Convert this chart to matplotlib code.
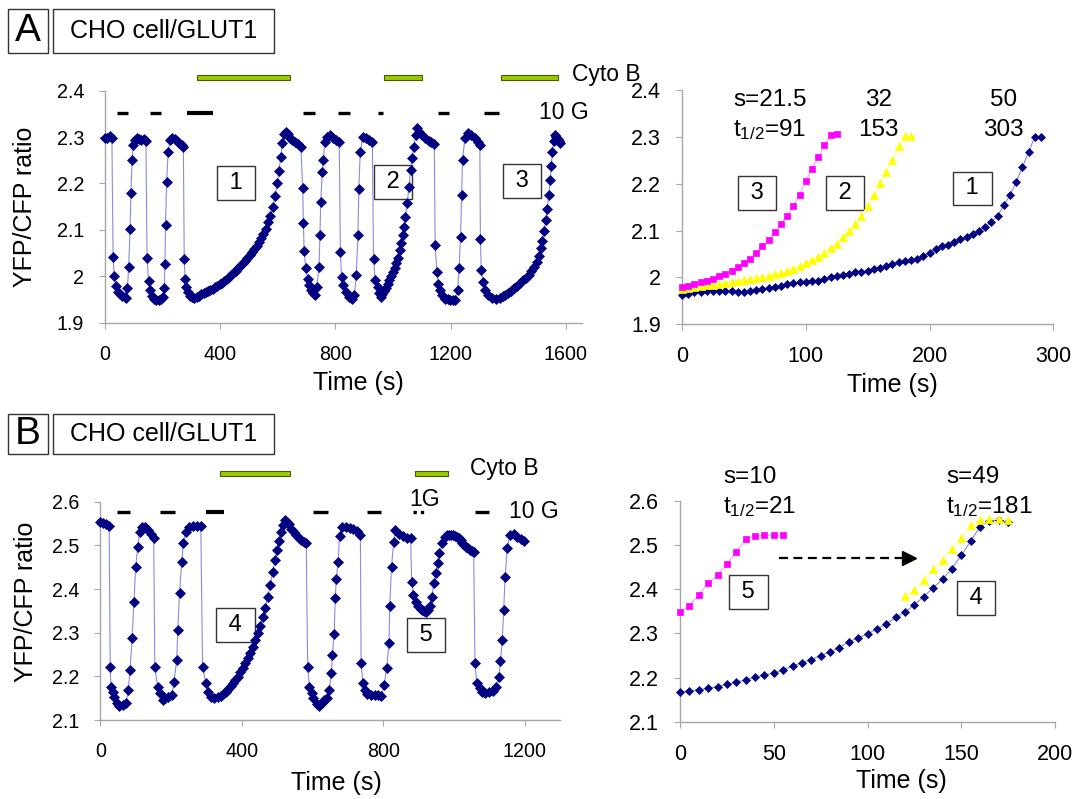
import matplotlib
matplotlib.use("Agg")
import matplotlib.pyplot as plt
from matplotlib.patches import Rectangle
from matplotlib.ticker import FuncFormatter

plt.rcParams['font.family'] = ['Liberation Sans', 'DejaVu Sans']
plt.rcParams['mathtext.default'] = 'regular'

# ----------------------------
# DATA
# ----------------------------
# Panel A, whole recording: (time s, YFP/CFP ratio)
a_trace = [
    (0, 2.297), (8, 2.298), (16, 2.302), (24, 2.297), (28, 2.042), (32, 2.000), (37, 1.979), (44, 1.967),
    (52, 1.961), (60, 1.958), (68, 1.956), (74, 1.953), (78, 1.975), (82, 2.019), (87, 2.101), (90, 2.180),
    (94, 2.250), (98, 2.283), (104, 2.294), (110, 2.299), (118, 2.296), (126, 2.294), (134, 2.296), (142, 2.292),
    (146, 2.040), (151, 1.990), (156, 1.970), (163, 1.958), (170, 1.952), (178, 1.950), (186, 1.950), (194, 1.952),
    (202, 1.955), (206, 1.975), (208, 2.027), (210, 2.110), (214, 2.204), (219, 2.268), (226, 2.294), (234, 2.299),
    (242, 2.296), (250, 2.292), (258, 2.288), (266, 2.284), (272, 2.279),
    (275, 2.038), (278, 1.995), (282, 1.977), (288, 1.966), (295, 1.958), (302, 1.955),
    (310, 1.954), (318, 1.956), (326, 1.958), (334, 1.961), (342, 1.963), (350, 1.966), (358, 1.968), (366, 1.970),
    (374, 1.973), (382, 1.976), (390, 1.979), (398, 1.983), (406, 1.986), (414, 1.990), (422, 1.994), (430, 1.998),
    (438, 2.002), (446, 2.007), (454, 2.012), (462, 2.017), (470, 2.022), (478, 2.028), (486, 2.034), (494, 2.040),
    (502, 2.046), (510, 2.052), (518, 2.058), (526, 2.065), (534, 2.073), (542, 2.082), (550, 2.092), (558, 2.103),
    (566, 2.116), (574, 2.131), (582, 2.150), (590, 2.172), (598, 2.200), (604, 2.228), (610, 2.258), (616, 2.288),
    (622, 2.306), (628, 2.312), (634, 2.306), (642, 2.298), (650, 2.294), (660, 2.289), (670, 2.285), (680, 2.279),
    (686, 2.191), (689, 2.114), (691, 2.054), (697, 2.018), (703, 1.995), (709, 1.981), (715, 1.970), (723, 1.963),
    (729, 1.959), (735, 1.977), (743, 2.020), (746, 2.088), (749, 2.160), (754, 2.224), (758, 2.250), (763, 2.290),
    (771, 2.301), (781, 2.304), (790, 2.297), (803, 2.294), (813, 2.290),
    (817, 2.053), (821, 1.999), (826, 1.981), (835, 1.966), (847, 1.955), (858, 1.952), (866, 1.959), (872, 2.002),
    (878, 2.088), (881, 2.189), (886, 2.268), (895, 2.301), (906, 2.297), (918, 2.294), (928, 2.290),
    (932, 2.038), (938, 1.991), (946, 1.977), (952, 1.963), (958, 1.955),
    (963, 1.962), (969, 1.968), (975, 1.975), (981, 1.983), (987, 1.991), (993, 2.000), (999, 2.009), (1005, 2.018),
    (1011, 2.028), (1017, 2.040), (1023, 2.057), (1028, 2.072), (1033, 2.088), (1038, 2.106), (1043, 2.128),
    (1049, 2.157), (1055, 2.193), (1061, 2.229), (1066, 2.254), (1072, 2.279), (1078, 2.304), (1083, 2.319),
    (1091, 2.312), (1101, 2.304), (1112, 2.297), (1123, 2.292), (1133, 2.290), (1143, 2.286),
    (1146, 2.067), (1152, 2.009), (1157, 1.984), (1163, 1.970), (1169, 1.959), (1181, 1.952), (1190, 1.951),
    (1198, 1.950), (1207, 1.950), (1215, 1.950), (1224, 1.970), (1229, 2.017), (1234, 2.085), (1238, 2.175),
    (1241, 2.250), (1249, 2.297), (1261, 2.308), (1270, 2.304), (1283, 2.297), (1293, 2.290), (1301, 2.283),
    (1303, 2.081), (1306, 2.013), (1312, 1.988), (1320, 1.970), (1329, 1.959), (1343, 1.953), (1358, 1.952),
    (1370, 1.954), (1380, 1.957), (1390, 1.960), (1400, 1.964), (1410, 1.969), (1420, 1.974), (1430, 1.979),
    (1440, 1.985), (1450, 1.991), (1460, 1.996), (1470, 2.003), (1480, 2.011), (1490, 2.020), (1498, 2.030),
    (1505, 2.043), (1512, 2.060), (1518, 2.076), (1524, 2.098), (1530, 2.122), (1535, 2.146), (1540, 2.175),
    (1545, 2.207), (1549, 2.238), (1553, 2.268), (1557, 2.292), (1561, 2.304), (1566, 2.301), (1571, 2.296),
    (1576, 2.292), (1580, 2.288),
]
a_cyto_b = [(320, 643), (970, 1102), (1374, 1572)]
a_glucose = [(41, 79), (157, 196), (283, 375), (687, 730), (809, 850), (949, 966), (1156, 1195), (1317, 1368)]

# Panel A, recoveries 1-3 aligned at their start
a1_time = [0, 5, 10, 15, 20, 25, 30, 35, 40, 45, 50, 55, 60, 65, 70, 75, 80, 85, 90, 95, 100, 105, 110, 115,
           120, 125, 130, 135, 140, 145, 150, 155, 160, 165, 170, 175, 180, 185, 190, 195, 200, 205, 210, 215,
           220, 225, 230, 235, 240, 245, 250, 255, 260, 265, 270, 275, 280, 285, 290]
a1_ratio = [1.961, 1.964, 1.968, 1.969, 1.970, 1.971, 1.971, 1.971, 1.971, 1.969, 1.969, 1.971, 1.973, 1.975,
            1.976, 1.979, 1.981, 1.985, 1.987, 1.989, 1.989, 1.991, 1.993, 1.996, 2.000, 2.002, 2.005, 2.007,
            2.011, 2.011, 2.014, 2.018, 2.020, 2.025, 2.029, 2.032, 2.034, 2.036, 2.039, 2.046, 2.051, 2.061,
            2.066, 2.070, 2.075, 2.082, 2.086, 2.093, 2.100, 2.107, 2.118, 2.132, 2.154, 2.175, 2.204, 2.235,
            2.268, 2.300, 2.301]
a2_time = [0, 5, 10, 15, 20, 25, 30, 35, 40, 45, 50, 55, 60, 65, 70, 75, 80, 85, 90, 95, 100, 105, 110, 115,
           120, 125, 130, 135, 140, 145, 150, 155, 160, 165, 170, 175, 180, 185]
a2_ratio = [1.975, 1.977, 1.979, 1.981, 1.983, 1.984, 1.986, 1.988, 1.990, 1.992, 1.994, 1.996, 1.998, 2.000,
            2.003, 2.006, 2.009, 2.013, 2.018, 2.024, 2.030, 2.036, 2.044, 2.052, 2.062, 2.072, 2.086, 2.099,
            2.113, 2.131, 2.153, 2.177, 2.202, 2.226, 2.250, 2.280, 2.302, 2.303]
a3_time = [0, 5, 10, 15, 20, 25, 30, 35, 40, 45, 50, 55, 60, 65, 70, 75, 80, 85, 90, 95, 100, 105, 110, 115,
           120, 125]
a3_ratio = [1.979, 1.982, 1.985, 1.989, 1.993, 1.997, 2.002, 2.008, 2.014, 2.021, 2.030, 2.040, 2.052, 2.066,
            2.080, 2.096, 2.113, 2.132, 2.153, 2.177, 2.205, 2.232, 2.257, 2.282, 2.305, 2.307]

# Panel B, whole recording
b_trace = [
    (0, 2.554), (9, 2.552), (17, 2.549), (25, 2.544), (28, 2.222), (30, 2.176), (36, 2.165), (39, 2.153),
    (46, 2.140), (54, 2.132), (63, 2.134), (73, 2.138), (79, 2.169), (84, 2.215), (90, 2.287), (95, 2.371),
    (100, 2.451), (106, 2.497), (111, 2.531), (119, 2.541), (127, 2.541), (136, 2.535), (143, 2.527), (151, 2.518),
    (154, 2.222), (162, 2.176), (168, 2.161), (176, 2.146), (183, 2.150), (192, 2.153), (203, 2.157), (208, 2.188),
    (216, 2.237), (219, 2.306), (224, 2.390), (230, 2.463), (235, 2.506), (241, 2.531), (251, 2.541), (262, 2.544),
    (273, 2.544), (284, 2.544),
    (289, 2.222), (298, 2.184), (305, 2.165), (313, 2.153), (322, 2.150), (332, 2.152),
    (340, 2.155), (347, 2.159), (354, 2.164), (361, 2.170), (368, 2.177), (375, 2.184), (382, 2.191), (389, 2.199),
    (396, 2.209), (403, 2.219), (410, 2.230), (417, 2.242), (424, 2.254), (431, 2.268), (438, 2.283), (445, 2.299),
    (452, 2.316), (459, 2.335), (466, 2.356), (473, 2.382), (480, 2.410), (487, 2.438), (494, 2.466), (500, 2.490),
    (506, 2.510), (512, 2.530), (517, 2.546), (521, 2.558), (527, 2.554), (533, 2.548), (540, 2.538), (547, 2.530),
    (554, 2.524), (561, 2.518), (568, 2.513), (575, 2.508), (582, 2.505),
    (586, 2.222), (591, 2.176), (597, 2.161), (602, 2.150), (611, 2.137), (618, 2.132), (626, 2.138), (632, 2.146),
    (640, 2.150), (647, 2.169), (653, 2.207), (656, 2.249), (661, 2.298), (664, 2.379), (667, 2.424), (672, 2.463),
    (676, 2.521), (683, 2.543), (694, 2.543), (705, 2.539), (715, 2.537), (726, 2.534), (735, 2.524),
    (737, 2.230), (742, 2.184), (748, 2.169), (755, 2.160), (764, 2.157), (775, 2.157), (786, 2.157), (794, 2.155),
    (802, 2.180), (809, 2.218), (816, 2.276), (818, 2.360), (823, 2.451), (829, 2.508), (834, 2.535), (845, 2.527),
    (856, 2.521), (867, 2.518), (877, 2.516),
    (880, 2.417), (885, 2.386), (891, 2.371), (899, 2.360), (905, 2.355), (910, 2.352), (915, 2.349), (920, 2.348),
    (926, 2.352), (931, 2.360), (937, 2.382), (942, 2.413), (948, 2.436), (953, 2.459), (958, 2.482), (967, 2.505),
    (974, 2.520), (980, 2.523), (985, 2.524), (991, 2.524), (996, 2.524), (1002, 2.522), (1007, 2.520),
    (1013, 2.516), (1018, 2.512), (1023, 2.506), (1028, 2.501), (1034, 2.497), (1039, 2.493), (1045, 2.490),
    (1050, 2.488), (1055, 2.485),
    (1059, 2.230), (1064, 2.184), (1072, 2.173), (1079, 2.165), (1088, 2.161), (1098, 2.163), (1109, 2.167),
    (1118, 2.176), (1126, 2.199), (1131, 2.234), (1136, 2.283), (1140, 2.352), (1144, 2.428), (1150, 2.493),
    (1158, 2.524), (1169, 2.526), (1179, 2.520), (1190, 2.514), (1198, 2.511),
]
b_cyto_b = [(338, 537), (890, 983)]
b_glucose = [(46, 84), (170, 212), (298, 349), (602, 643), (753, 792), (1058, 1099)]
b_low_glucose = (885, 923)

# Panel B, recoveries 4 and 5
b4_time = [0, 5, 10, 15, 20, 25, 30, 35, 40, 45, 50, 55, 60, 65, 70, 75, 80, 85, 90, 95, 100, 105, 110, 115,
           120, 125, 130, 135, 140, 145, 150, 155, 160, 165, 170, 175]
b4_ratio = [2.167, 2.169, 2.173, 2.176, 2.180, 2.185, 2.190, 2.195, 2.201, 2.206, 2.211, 2.217, 2.226, 2.234,
            2.241, 2.250, 2.258, 2.268, 2.281, 2.290, 2.299, 2.310, 2.321, 2.336, 2.348, 2.365, 2.383, 2.403,
            2.422, 2.446, 2.476, 2.508, 2.541, 2.553, 2.556, 2.552]
b4y_time = [120, 125, 130, 135, 140, 145, 150, 155, 160, 165, 170, 175]
b4y_ratio = [2.385, 2.397, 2.421, 2.445, 2.466, 2.490, 2.516, 2.545, 2.556, 2.558, 2.558, 2.556]
b5_time = [0, 5, 10, 15, 20, 25, 30, 35, 40, 45, 50, 55]
b5_ratio = [2.349, 2.362, 2.387, 2.413, 2.432, 2.457, 2.483, 2.513, 2.520, 2.521, 2.521, 2.522]

# ----------------------------
# HELPERS
# ----------------------------
W, H = 1074, 799
NAVY = '#000080'
NAVY_LINE = '#8c8cd9'
MAGENTA = '#ff00ff'
YELLOW = '#ffff00'
GREEN = '#99cc00'


def fx(px):
    return px / W


def fy(py):
    return 1 - py / H


def add_axes(fig, left, top, right, bottom):
    # axes box given in pixels of the 1074x799 canvas
    return fig.add_axes([fx(left), fy(bottom), fx(right) - fx(left), fy(top) - fy(bottom)])


def style(ax, xlim, xticks, ylim, yticks, size):
    ax.set_xlim(*xlim)
    ax.set_ylim(*ylim)
    ax.set_xticks(xticks)
    ax.set_yticks(yticks)
    fmt = FuncFormatter(lambda v, p: f'{round(v, 2):g}')
    ax.xaxis.set_major_formatter(fmt)
    ax.yaxis.set_major_formatter(fmt)
    for s in ('top', 'right'):
        ax.spines[s].set_visible(False)
    for s in ('left', 'bottom'):
        ax.spines[s].set_color('#a6a6a6')
        ax.spines[s].set_linewidth(1.0)
    ax.tick_params(direction='out', length=4, width=0.8, color='#a6a6a6', labelsize=size)
    ax.tick_params(axis='x', pad=12)
    ax.tick_params(axis='y', pad=11)
    ax.patch.set_visible(False)


def trace(ax, t, y, marker, color, line, ms):
    ax.plot(t, y, color=line, lw=0.8, marker=marker, ms=ms, mfc=color, mec=color,
            mew=0.5, zorder=3, clip_on=False)


def box_label(ax, x, y, s):
    ax.text(x, y, f' {s} ', ha='center', va='center', fontsize=17, zorder=2,
            bbox=dict(boxstyle='square,pad=0.25', fc='white', ec='#333333', lw=1.0))


def bars(ax, cyto, glucose, y_cyto, h_cyto, y_glu):
    for t0, t1 in cyto:
        ax.add_patch(Rectangle((t0, y_cyto - h_cyto / 2), t1 - t0, h_cyto, fc=GREEN,
                               ec='#4a5a00', lw=0.8, clip_on=False))
    for i, (t0, t1) in enumerate(glucose):
        ax.plot([t0, t1], [y_glu, y_glu], color='black', lw=3.0 if i == 2 else 2.4,
                solid_capstyle='butt', clip_on=False)


def title_boxes(fig, top, bottom, letter):
    for (l, r), s, size in (((8.4, 47.5), letter, 28), ((52.8, 273.6), 'CHO cell/GLUT1', 18)):
        fig.patches.append(Rectangle((fx(l), fy(bottom)), fx(r) - fx(l), fy(top) - fy(bottom),
                                     transform=fig.transFigure, fc='white', ec='#333333', lw=1.0))
        fig.text(fx((l + r) / 2), fy((top + bottom) / 2), s, ha='center', va='center', fontsize=size)


# ----------------------------
# FIGURE
# ----------------------------
fig = plt.figure(figsize=(10.74, 7.99), dpi=100)
fig.patch.set_facecolor('white')

# --- A, full trace
ax = add_axes(fig, 105, 90.7, 581.8, 322.7)
style(ax, (0, 1655), [0, 400, 800, 1200, 1600], (1.9, 2.4), [1.9, 2.0, 2.1, 2.2, 2.3, 2.4], 14.2)
t, y = zip(*a_trace)
trace(ax, t, y, 'D', NAVY, NAVY_LINE, 5.0)
bars(ax, a_cyto_b, a_glucose, 2.4287, 0.0114, 2.3526)
ax.text(1621, 2.434, 'Cyto B', ha='left', va='center', fontsize=16.5)
ax.text(1508, 2.353, '10 G', ha='left', va='center', fontsize=16.5)
box_label(ax, 456, 2.201, '1')
box_label(ax, 999, 2.203, '2')
box_label(ax, 1447, 2.205, '3')
ax.set_xlabel('Time (s)', fontsize=18)
ax.xaxis.set_label_coords(0.532, -0.208)
ax.set_ylabel('YFP/CFP ratio', fontsize=18)
ax.yaxis.set_label_coords(-0.1416, 0.5)

# --- A, overlaid recoveries
ax = add_axes(fig, 682, 90.3, 1053.3, 324)
style(ax, (0, 300), [0, 100, 200, 300], (1.9, 2.4), [1.9, 2.0, 2.1, 2.2, 2.3, 2.4], 15.5)
trace(ax, a1_time, a1_ratio, 'D', NAVY, NAVY_LINE, 4.4)
trace(ax, a2_time, a2_ratio, '^', YELLOW, '#ffff99', 5.2)
trace(ax, a3_time, a3_ratio, 's', MAGENTA, '#ff99ff', 4.2)
ax.text(41.5, 2.379, 's=21.5', ha='left', va='center', fontsize=17.5)
ax.text(41.5, 2.315, 't$_{1/2}$=91', ha='left', va='center', fontsize=17.5)
ax.text(159, 2.379, '32', ha='center', va='center', fontsize=17.5)
ax.text(159, 2.315, '153', ha='center', va='center', fontsize=17.5)
ax.text(260, 2.379, '50', ha='center', va='center', fontsize=17.5)
ax.text(260, 2.315, '303', ha='center', va='center', fontsize=17.5)
box_label(ax, 60.5, 2.18, '3')
box_label(ax, 131.5, 2.18, '2')
box_label(ax, 234.7, 2.19, '1')
ax.set_xlabel('Time (s)', fontsize=18)
ax.xaxis.set_label_coords(0.567, -0.21)

# --- B, full trace
ax = add_axes(fig, 100.3, 501.7, 560.3, 720)
style(ax, (0, 1300), [0, 400, 800, 1200], (2.1, 2.6), [2.1, 2.2, 2.3, 2.4, 2.5, 2.6], 14.2)
t, y = zip(*b_trace)
trace(ax, t, y, 'D', NAVY, NAVY_LINE, 5.0)
bars(ax, b_cyto_b, b_glucose, 2.665, 0.0121, 2.577)
ax.plot(b_low_glucose, [2.577, 2.577], color='black', lw=2.4, ls=(0, (1, 1.2)), clip_on=False)
ax.text(1045, 2.6765, 'Cyto B', ha='left', va='center', fontsize=16.5)
ax.text(1155, 2.577, '10 G', ha='left', va='center', fontsize=16.5)
ax.text(915, 2.604, '1G', ha='center', va='center', fontsize=16.5)
box_label(ax, 382, 2.318, '4')
box_label(ax, 920, 2.295, '5')
ax.set_xlabel('Time (s)', fontsize=18)
ax.xaxis.set_label_coords(0.514, -0.234)
ax.set_ylabel('YFP/CFP ratio', fontsize=18)
ax.yaxis.set_label_coords(-0.1365, 0.542)

# --- B, overlaid recoveries
ax = add_axes(fig, 680, 500.5, 1055, 722)
style(ax, (0, 200), [0, 50, 100, 150, 200], (2.1, 2.6), [2.1, 2.2, 2.3, 2.4, 2.5, 2.6], 15.5)
trace(ax, b4_time, b4_ratio, 'D', NAVY, NAVY_LINE, 4.4)
trace(ax, b4y_time, b4y_ratio, '^', YELLOW, '#ffff99', 5.2)
trace(ax, b5_time, b5_ratio, 's', MAGENTA, '#ff99ff', 4.2)
ax.plot([53, 122], [2.471, 2.471], color='black', lw=1.6, ls=(0, (4, 2.5)), clip_on=False)
ax.plot([122], [2.471], marker='>', ms=10, color='black', clip_on=False)
ax.text(23, 2.654, 's=10', ha='left', va='center', fontsize=17.5)
ax.text(23, 2.586, 't$_{1/2}$=21', ha='left', va='center', fontsize=17.5)
ax.text(142, 2.654, 's=49', ha='left', va='center', fontsize=17.5)
ax.text(142, 2.586, 't$_{1/2}$=181', ha='left', va='center', fontsize=17.5)
box_label(ax, 36.5, 2.393, '5')
box_label(ax, 158, 2.38, '4')
ax.set_xlabel('Time (s)', fontsize=18)
ax.xaxis.set_label_coords(0.591, -0.212)

title_boxes(fig, 9.3, 52.7, 'A')
title_boxes(fig, 414, 454, 'B')

fig.savefig('out.png', dpi=100)
